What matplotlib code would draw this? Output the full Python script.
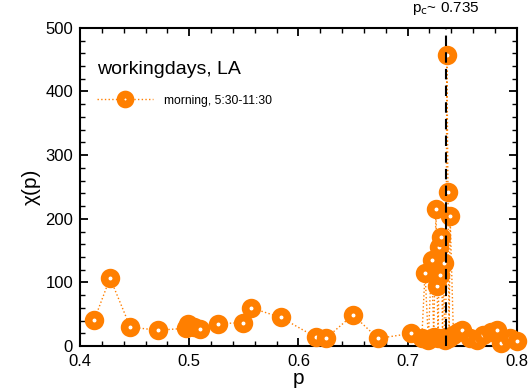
import matplotlib
matplotlib.use('Agg')
import matplotlib.pyplot as plt
from matplotlib.ticker import MultipleLocator

plt.rcParams['font.family'] = ['Liberation Sans', 'DejaVu Sans']

# data (ordered as the dotted line runs)
p_vals = [0.413, 0.4275, 0.446, 0.471, 0.497, 0.499, 0.501, 0.504, 0.510,
          0.526, 0.549, 0.557, 0.584, 0.616, 0.625, 0.650, 0.673, 0.703,
          0.713, 0.716, 0.719, 0.722, 0.724, 0.726, 0.727, 0.728, 0.729,
          0.730, 0.731, 0.732, 0.733, 0.734, 0.735, 0.736, 0.737, 0.738,
          0.739, 0.742, 0.746, 0.750, 0.757, 0.764, 0.769, 0.776, 0.782,
          0.786, 0.794, 0.800]
chi_vals = [41, 107, 30, 25, 28, 35, 32, 30, 27,
            35, 37, 60, 45, 14, 12, 49, 12, 20,
            12, 115, 10, 135, 14, 215, 94, 12, 156, 112, 171, 13, 130, 10,
            14, 458, 242, 12, 204, 18, 22, 25, 12, 10, 18, 22, 25,
            5, 12, 8]
p_c = 0.735
orange = '#ff7f00'

fig = plt.figure(figsize=(5.30, 3.92), dpi=100)
ax = fig.add_axes([0.151, 0.117, 0.824, 0.812])

ax.plot(p_vals, chi_vals, linestyle=':', linewidth=1.0, color=orange,
        marker='o', markersize=8.5, markeredgewidth=5.5,
        markerfacecolor='white', markeredgecolor=orange,
        label='morning, 5:30-11:30', clip_on=False, zorder=3)
ax.axvline(p_c, color='black', linestyle=(0, (5, 3)), linewidth=1.5, zorder=4)

ax.set_xlim(0.4, 0.8)
ax.set_ylim(0, 500)
ax.xaxis.set_major_locator(MultipleLocator(0.1))
ax.xaxis.set_minor_locator(MultipleLocator(0.02))
ax.yaxis.set_major_locator(MultipleLocator(100))
ax.yaxis.set_minor_locator(MultipleLocator(20))
ax.tick_params(which='both', direction='in', top=True, right=True, labelsize=12)
ax.tick_params(which='major', length=6, width=1.3)
ax.tick_params(which='minor', length=3.5, width=1.0)
ax.tick_params(axis='x', pad=5.5)
ax.tick_params(axis='y', pad=5)
for s in ax.spines.values():
    s.set_linewidth(1.5)

ax.set_xlabel('p', fontsize=15, labelpad=0)
ax.set_ylabel('χ(p)', fontsize=15, labelpad=3)

ax.text(0.039, 0.868, 'workingdays, LA', transform=ax.transAxes, fontsize=14,
        va='center', ha='left')
ax.legend(loc='upper left', bbox_to_anchor=(0.039, 0.79), frameon=False,
          fontsize=8.7, handlelength=4.6, handletextpad=0.9,
          borderpad=0, borderaxespad=0, markerscale=0.85)

ax.text(p_c, 1.035, 'p$_\\mathrm{c}$~ 0.735', transform=ax.get_xaxis_transform(),
        ha='center', va='bottom', fontsize=11)

plt.savefig('out.png', dpi=100)
